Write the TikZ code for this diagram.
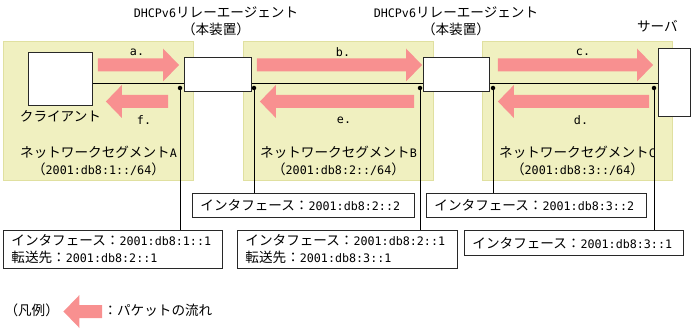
\documentclass[tikz,border=0pt]{standalone}
\usepackage{fontspec}
\setmainfont{Noto Sans CJK JP}
\newfontfamily\latn[Scale=0.86]{DejaVu Sans Mono}
\usetikzlibrary{arrows.meta, positioning, calc}
\definecolor{segfill}{RGB}{240,240,192}
\definecolor{segline}{RGB}{224,224,160}
\definecolor{pktpink}{RGB}{248,144,144}
\definecolor{boxline}{RGB}{40,40,40}

\begin{document}
\begin{tikzpicture}[
    x=1pt, y=-1pt,
    font=\fontsize{13.6}{17}\selectfont,
    segment/.style={rectangle, draw=segline, fill=segfill, line width=1pt, anchor=north west,
                minimum width=190pt, minimum height=139pt, inner sep=0pt},
    devbox/.style={rectangle, draw=boxline, fill=white, line width=0.9pt, anchor=north west, inner sep=0pt},
    ifbox/.style={rectangle, draw=boxline, fill=white, line width=0.9pt, anchor=north west,
                inner xsep=8pt, inner ysep=0pt, align=left},
    pkt/.style={fill=pktpink, to path={let \p1=(\tikztostart), \p2=(\tikztotarget), \n1={sign(\x2-\x1)} in
                (\x1,{\y1+6.5pt}) -- ({\x2-\n1*16pt},{\y1+6.5pt}) -- ({\x2-\n1*16pt},{\y1+16.5pt})
                -- (\x2,\y1) -- ({\x2-\n1*16pt},{\y1-16.5pt}) -- ({\x2-\n1*16pt},{\y1-6.5pt})
                -- (\x1,{\y1-6.5pt}) -- cycle}},
    pktlabel/.style={font=\fontsize{13.6}{17}\selectfont\latn},
    link/.style={draw=black, line width=0.8pt},
    dot/.style={circle, fill=black, inner sep=0pt, minimum size=4.5pt}
]
\useasboundingbox (0,0) rectangle (693,331);

% network segments
\node[segment] (segA) at (3,41) {};
\node[segment] (segB) at (243,41) {};
\node[segment] (segC) at (482,41) {};
\node[align=center, above=2pt of segA.south] {ネットワークセグメント{\latn A}\\（{\latn 2001:db8:1::/64}）};
\node[align=center, above=2pt of segB.south] {ネットワークセグメント{\latn B}\\（{\latn 2001:db8:2::/64}）};
\node[align=center, above=2pt of segC.south] {ネットワークセグメント{\latn C}\\（{\latn 2001:db8:3::/64}）};

% devices
\node[devbox, minimum width=64pt, minimum height=53pt] (client) at (28,52) {};
\node[devbox, minimum width=67pt, minimum height=34pt] (relay1) at (184,57) {};
\node[devbox, minimum width=66pt, minimum height=34pt] (relay2) at (423,57) {};
\node[devbox, minimum width=32pt, minimum height=68pt] (server) at (658,48) {};

\node[below=1pt of client] {クライアント};
\node[align=center] at (216,21) {{\latn DHCPv6}リレーエージェント\\（本装置）};
\node[align=center] at (456,21) {{\latn DHCPv6}リレーエージェント\\（本装置）};
\node[above=12pt of server, xshift=-17pt] {サーバ};

% link
\coordinate (lnk) at (0,83);
\draw[link] (client.east |- lnk) -- (relay1.west |- lnk);
\draw[link] (relay1.east |- lnk) -- (relay2.west |- lnk);
\draw[link] (relay2.east |- lnk) -- (server.west |- lnk);

% packet flow
\coordinate (upY) at (0,65);
\coordinate (dnY) at (0,101.5);
\fill[pkt] ($(client.east |- upY)+(5,0)$) to ($(relay1.west |- upY)+(-5,0)$);
\fill[pkt] ($(relay1.east |- upY)+(5,0)$) to ($(relay2.west |- upY)+(-1,0)$);
\fill[pkt] ($(relay2.east |- upY)+(8,0)$) to ($(server.west |- upY)+(-5,0)$);
\fill[pkt] ($(server.west |- dnY)+(-9,0)$) to ($(relay2.east |- dnY)+(8,0)$);
\fill[pkt] ($(relay2.west |- dnY)+(-9,0)$) to ($(relay1.east |- dnY)+(8,0)$);
\fill[pkt] ($(relay1.west |- dnY)+(-16,0)$) to ($(client.east |- dnY)+(13,0)$);
\node[pktlabel] (la) at (137,52) {a.};
\node[pktlabel] (lb) at (343,52) {b.};
\node[pktlabel] (lc) at (583,52) {c.};
\node[pktlabel] (ld) at (581,120) {d.};
\node[pktlabel] (le) at (344,120) {e.};
\node[pktlabel] (lf) at (144,120) {f.};

% interfaces
\node[dot] (pA) at (180,88) {};
\node[dot] (pB1) at (254,88) {};
\node[dot] (pB2) at (420,88) {};
\node[dot] (pC1) at (493,88) {};
\node[dot] (pC2) at (654,88) {};

\node[ifbox, text width=203pt, minimum height=38pt] (ifA) at (3,230)
    {インタフェース：{\latn 2001:db8:1::1}\\転送先：{\latn 2001:db8:2::1}};
\node[ifbox, text width=206pt, minimum height=24pt] (ifB1) at (192,193)
    {インタフェース：{\latn 2001:db8:2::2}};
\node[ifbox, text width=204pt, minimum height=38pt] (ifB2) at (237,230)
    {インタフェース：{\latn 2001:db8:2::1}\\転送先：{\latn 2001:db8:3::1}};
\node[ifbox, text width=204pt, minimum height=24pt] (ifC1) at (426,193)
    {インタフェース：{\latn 2001:db8:3::2}};
\node[ifbox, text width=203pt, minimum height=25pt] (ifC2) at (464,230)
    {インタフェース：{\latn 2001:db8:3::1}};

\draw[link] (pA.center) -- (ifA.north -| pA);
\draw[link] (pB1.center) -- (ifB1.north -| pB1);
\draw[link] (pB2.center) -- (ifB2.north -| pB2);
\draw[link] (pC1.center) -- (ifC1.north -| pC1);
\draw[link] (pC2.center) -- (ifC2.north -| pC2);

% legend
\node[anchor=west] (legKey) at (1,310) {（凡例）};
\node[anchor=west] (legTxt) at (100,310) {：パケットの流れ};
\fill[pkt] ($(legTxt.west |- 0,311.5)+(2,0)$) to ($(legKey.east |- 0,311.5)+(1,0)$);
\end{tikzpicture}
\end{document}
